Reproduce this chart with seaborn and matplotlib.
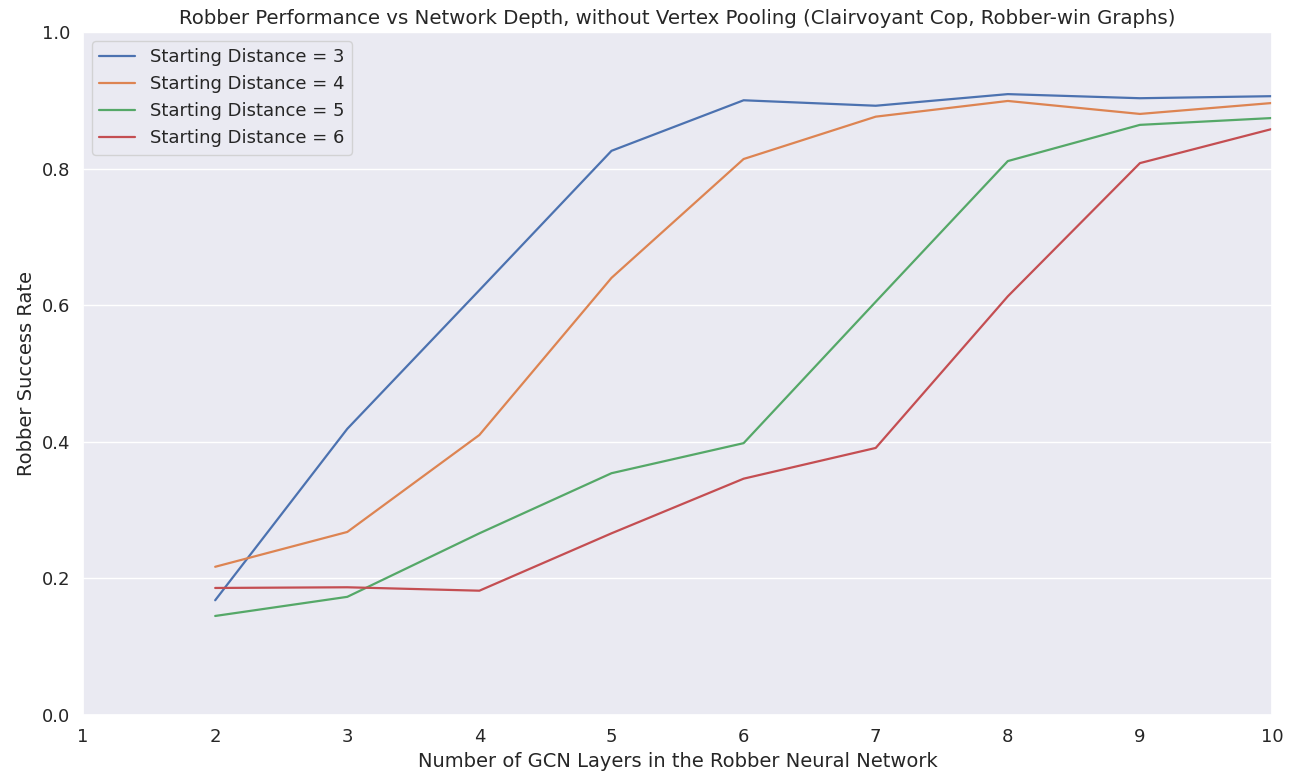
import matplotlib
matplotlib.use("Agg")
import matplotlib.pyplot as plt
import seaborn as sns
import pandas as pd

layers = [2, 3, 4, 5, 6, 7, 8, 9, 10]
dist3 = [0.168, 0.419, 0.622, 0.826, 0.900, 0.892, 0.909, 0.903, 0.906]
dist4 = [0.217, 0.268, 0.410, 0.640, 0.814, 0.876, 0.899, 0.880, 0.896]
dist5 = [0.145, 0.173, 0.266, 0.354, 0.398, 0.605, 0.811, 0.864, 0.874]
dist6 = [0.186, 0.187, 0.182, 0.266, 0.346, 0.391, 0.613, 0.808, 0.858]
labels = ["Starting Distance = 3", "Starting Distance = 4",
          "Starting Distance = 5", "Starting Distance = 6"]

rows = []
for lab, vals in zip(labels, [dist3, dist4, dist5, dist6]):
    for x, v in zip(layers, vals):
        rows.append({"layers": x, "rate": v, "series": lab})
df = pd.DataFrame(rows)

sns.set_theme(style="darkgrid")
plt.rcParams['font.family'] = ['DejaVu Sans']
fig, ax = plt.subplots(figsize=(12.98, 7.76), dpi=100)
fig.subplots_adjust(left=0.064, right=0.980, top=0.9588, bottom=0.0786)

sns.lineplot(data=df, x="layers", y="rate", hue="series", ax=ax,
             palette=sns.color_palette("deep", 4), linewidth=1.6)

ax.set_xlim(1, 10)
ax.set_ylim(0, 1.0)
ax.set_xticks(range(1, 11))
ax.set_yticks([0.0, 0.2, 0.4, 0.6, 0.8, 1.0])
ax.xaxis.grid(False)
ax.tick_params(labelsize=13)
ax.set_xlabel("Number of GCN Layers in the Robber Neural Network", fontsize=14)
ax.set_ylabel("Robber Success Rate", fontsize=14)
ax.set_title("Robber Performance vs Network Depth, without Vertex Pooling (Clairvoyant Cop, Robber-win Graphs)", fontsize=14.2)
leg = ax.legend(loc="upper left", fontsize=13)
leg.set_title(None)

fig.savefig("out.png", dpi=100)
